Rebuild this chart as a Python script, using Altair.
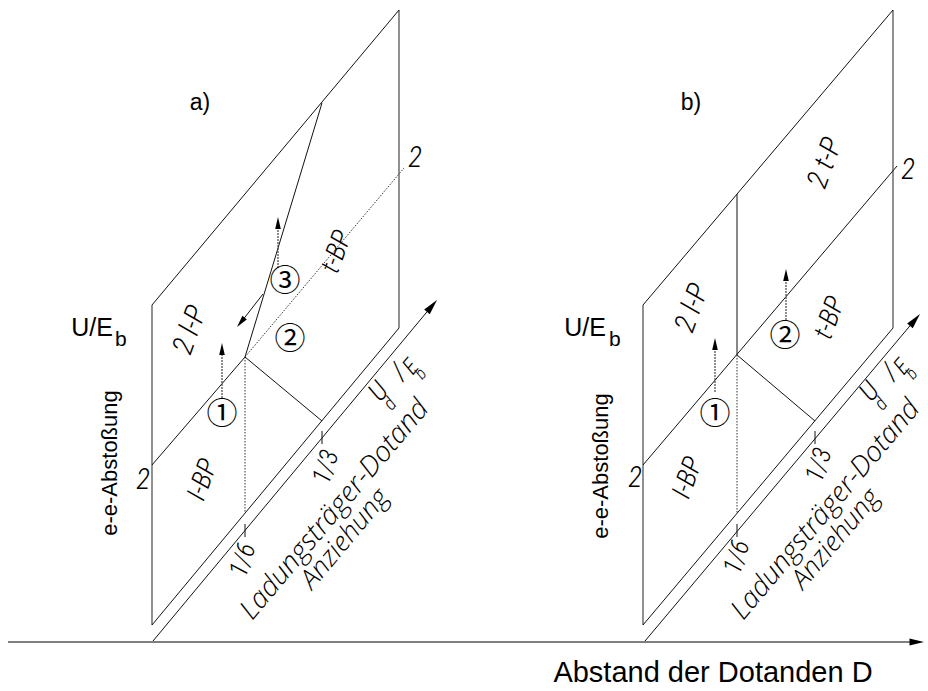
import altair as alt
import pandas as pd

W, H = 928, 691

# ---------------- geometry (picture units, y grows downward) ----------------
# each segment: (x1, y1, x2, y2)
edges_gray = [
    (152, 305, 152, 625), (399, 10, 399, 328),      # panel a vertical edges
    (643, 305, 643, 625), (893, 10, 893, 328),      # panel b vertical edges
    (8, 642, 914, 642),                             # axis "Abstand der Dotanden D"
]
edges_black = [
    (152, 305, 399, 10), (152, 625, 399, 328),      # panel a top / bottom
    (643, 305, 893, 10), (643, 625, 893, 328),      # panel b top / bottom
    (153, 641, 431, 307), (645, 641, 914, 321),     # U_d/E_b axes
]
phase_solid = [
    (152, 465, 245, 357), (245, 357, 322, 421), (245, 357, 322, 103),   # a
    (643, 465, 897, 166), (737, 355, 737, 194), (737, 355, 815, 421),   # b
    (263, 294, 242, 321),                                               # arrow 3 shaft
]
phase_dotted = [
    (245, 357, 404, 168), (245, 357, 245, 513),     # a
    (737, 355, 737, 513),                           # b
]
ticks = [
    (245, 524, 245, 537), (322, 431, 322, 444),
    (737, 524, 737, 537), (815, 431, 815, 444),
]
arrow_shafts = [
    (222, 398, 222, 350), (278, 268, 278, 224),
    (715, 392, 715, 345), (786, 320, 786, 276),
]
# arrow heads: tip x, tip y, direction (deg, clockwise from up), size
head_x = [222, 278, 237, 715, 786, 437, 920, 924]
head_y = [343, 217, 327, 338, 269, 300, 314, 642]
head_dir = [0, 0, 219, 0, 0, 40, 40, 90]
head_size = [180, 180, 180, 180, 180, 300, 300, 260]

# ---------------- texts ----------------
ue_text = ["U/E", "U/E"]
ue_x = [113, 606]
ue_y = [336, 336]
sub_text = ["b", "b"]
sub_x = [115, 609]
sub_y = [346, 346]

plain_text = ["a)", "b)", "e-e-Abstoßung", "e-e-Abstoßung", "Abstand der Dotanden D"]
plain_x = [200, 691, 110, 601, 713]
plain_y = [103, 103, 463, 466, 673]
plain_angle = [0, 0, 270, 270, 0]
plain_size = [23, 23, 22, 22, 29]

circ_text = ["①", "②", "③", "①", "②"]
circ_x = [222, 290, 285, 715, 785]
circ_y = [415, 340, 282, 415, 337]

slant_text = ["2", "2", "I-BP", "2 l-P", "t-BP", "1/6", "1/3",
              "2", "2", "I-BP", "2 l-P", "t-BP", "2 t-P", "1/6", "1/3"]
slant_x = [143, 415, 203, 190, 337, 243, 326,
           635, 908, 688, 692, 830, 825, 737, 819]
slant_y = [480, 158, 480, 330, 252, 560, 467,
           478, 170, 478, 308, 318, 163, 557, 465]
slant_angle = [0, 0, 290, 290, 290, 288, 288,
               0, 0, 290, 290, 290, 290, 288, 288]
slant_size = [29, 29, 27, 29, 27, 26, 26,
              29, 29, 27, 29, 27, 29, 26, 26]

diag_text = ["Ladungsträger-Dotand", "Anziehung",
             "Ladungsträger-Dotand", "Anziehung"]
diag_x = [335, 345, 826, 836]
diag_y = [510, 539, 510, 539]
diag_size = [28, 27, 28, 27]

ud_text = ["U", "d", "/", "E", "b", "U", "d", "/", "E", "b"]
ud_x = [379, 390, 399, 411, 421, 870, 881, 890, 902, 912]
ud_y = [392, 404, 372, 367, 374, 392, 404, 372, 367, 374]
ud_size = [27, 19, 27, 23, 17, 27, 19, 27, 23, 17]
diag_angle = 310

FONT = "Liberation Sans"
NARROW = "Roboto Condensed, Roboto, DejaVu Sans Condensed, DejaVu Sans"
WIDE = "Open Sans, Roboto, DejaVu Sans"

xs = alt.Scale(domain=[0, W], nice=False, zero=False)
ys = alt.Scale(domain=[0, H], reverse=True, nice=False, zero=False)


def segs(rows):
    return pd.DataFrame(rows, columns=["x1", "y1", "x2", "y2"])


def rule_layer(rows, color, width, dash=None):
    kw = dict(color=color, strokeWidth=width)
    if dash:
        kw["strokeDash"] = dash
    return alt.Chart(segs(rows)).mark_rule(**kw).encode(
        x=alt.X("x1:Q", scale=xs, axis=None),
        y=alt.Y("y1:Q", scale=ys, axis=None),
        x2="x2:Q",
        y2="y2:Q",
    )


def enc_xy():
    return dict(x=alt.X("x:Q", scale=xs, axis=None), y=alt.Y("y:Q", scale=ys, axis=None))


layers = [
    rule_layer(edges_gray, "#555555", 1.3),
    rule_layer(edges_black, "#111111", 1.0),
    rule_layer(phase_solid, "#111111", 1.0),
    rule_layer(phase_dotted, "#333333", 1.0, [1.5, 1.5]),
    rule_layer(ticks, "#111111", 1.0),
    rule_layer(arrow_shafts, "#444444", 1.2, [2, 1]),
]

heads = pd.DataFrame({"x": head_x, "y": head_y, "dir": head_dir, "s": head_size})
layers.append(
    alt.Chart(heads).mark_point(
        shape="M0,0L0.42,1.8L-0.42,1.8Z", filled=True, color="#000000", opacity=1
    ).encode(
        **enc_xy(),
        angle=alt.Angle("dir:Q", scale=None),
        size=alt.Size("s:Q", scale=None),
    )
)

layers.append(
    alt.Chart(pd.DataFrame({"t": ue_text, "x": ue_x, "y": ue_y})).mark_text(
        font=FONT, fontSize=25, align="right", baseline="alphabetic", color="#000000"
    ).encode(**enc_xy(), text="t:N")
)
layers.append(
    alt.Chart(pd.DataFrame({"t": sub_text, "x": sub_x, "y": sub_y})).mark_text(
        font=FONT, fontSize=21, align="left", baseline="alphabetic", color="#000000"
    ).encode(**enc_xy(), text="t:N")
)

plain = pd.DataFrame({"t": plain_text, "x": plain_x, "y": plain_y,
                      "a": plain_angle, "s": plain_size})
layers.append(
    alt.Chart(plain).mark_text(font=FONT, align="center", baseline="middle", color="#000000").encode(
        **enc_xy(),
        text="t:N",
        angle=alt.Angle("a:Q", scale=None),
        size=alt.Size("s:Q", scale=None),
    )
)

circ = pd.DataFrame({"t": circ_text, "x": circ_x, "y": circ_y})
layers.append(
    alt.Chart(circ).mark_text(font="Noto Sans CJK JP", fontSize=31, align="center",
                              baseline="middle", color="#000000").encode(
        **enc_xy(), text="t:N",
    )
)

slant = pd.DataFrame({"t": slant_text, "x": slant_x, "y": slant_y,
                      "a": slant_angle, "s": slant_size})
layers.append(
    alt.Chart(slant).mark_text(font=NARROW, fontStyle="italic", fontWeight=300, align="center",
                               baseline="middle", color="#000000").encode(
        **enc_xy(),
        text="t:N",
        angle=alt.Angle("a:Q", scale=None),
        size=alt.Size("s:Q", scale=None),
    )
)

diag = pd.DataFrame({"t": diag_text, "x": diag_x, "y": diag_y, "s": diag_size})
layers.append(
    alt.Chart(diag).mark_text(font=WIDE, fontStyle="italic", fontWeight=300, align="center",
                              baseline="middle", angle=diag_angle, color="#000000").encode(
        **enc_xy(),
        text="t:N",
        size=alt.Size("s:Q", scale=None),
    )
)

ud = pd.DataFrame({"t": ud_text, "x": ud_x, "y": ud_y, "s": ud_size})
layers.append(
    alt.Chart(ud).mark_text(font=NARROW, fontStyle="italic", fontWeight=300, align="center",
                            baseline="middle", angle=diag_angle, color="#000000").encode(
        **enc_xy(),
        text="t:N",
        size=alt.Size("s:Q", scale=None),
    )
)

chart = alt.layer(*layers).properties(
    width=W, height=H, autosize=alt.AutoSizeParams(type="none"), padding=0,
    background="white",
).configure_view(stroke=None)

chart.save("out.html", embed_options={"renderer": "svg", "actions": False})
